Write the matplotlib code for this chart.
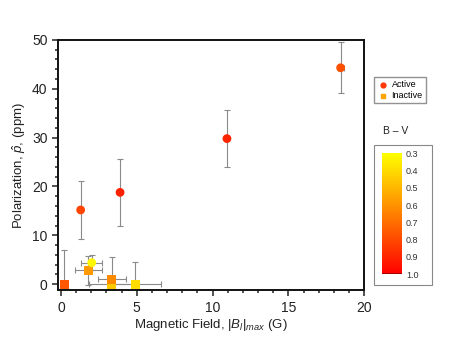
import matplotlib
matplotlib.use('Agg')
import matplotlib.pyplot as plt
import matplotlib.colors as mcolors
from matplotlib.patches import Rectangle
from matplotlib.ticker import MultipleLocator

plt.rcParams['font.family'] = ['Liberation Sans', 'DejaVu Sans']
plt.rcParams['mathtext.fontset'] = 'custom'
plt.rcParams['mathtext.rm'] = 'Liberation Sans'
plt.rcParams['mathtext.it'] = 'Liberation Sans:italic'

# active stars (circles)
act_x = [1.3, 3.9, 10.95, 18.45, 2.03]
act_y = [15.2, 18.8, 29.8, 44.3, 4.4]
act_xerr = [0.0, 0.0, 0.0, 0.2, 0.69]
act_yerr = [6.0, 6.9, 5.8, 5.2, 1.5]
act_bv = [0.81, 0.91, 0.90, 0.78, 0.32]

# inactive stars (squares)
ina_x = [0.22, 1.81, 3.35, 3.35, 4.9]
ina_y = [0.0, 2.87, 0.0, 1.0, 0.0]
ina_xerr = [0.0, 0.88, 1.5, 0.91, 1.72]
ina_yerr = [7.1, 3.0, 0.0, 4.5, 4.5]
ina_bv = [0.76, 0.58, 0.45, 0.62, 0.40]

cbar_ticks = [0.3, 0.4, 0.5, 0.6, 0.7, 0.8, 0.9, 1.0]

cmap = plt.get_cmap('autumn_r')
norm = mcolors.Normalize(vmin=0.3, vmax=1.0)

fig = plt.figure(figsize=(4.49, 3.47), dpi=100)
ax = fig.add_axes([0.129, 0.164, 0.682, 0.721])

ecol = '#8a8a8a'
# error bars
ax.errorbar(ina_x, ina_y, xerr=ina_xerr, yerr=ina_yerr, fmt='none',
            ecolor=ecol, elinewidth=0.8, capsize=2, capthick=0.8, zorder=2)
ax.errorbar(act_x, act_y, xerr=act_xerr, yerr=act_yerr, fmt='none',
            ecolor=ecol, elinewidth=0.8, capsize=2, capthick=0.8, zorder=2)

ax.scatter(ina_x, ina_y, c=ina_bv, cmap=cmap, norm=norm, marker='s', s=40,
           linewidths=0, zorder=3)
ax.scatter(act_x, act_y, c=act_bv, cmap=cmap, norm=norm, marker='o', s=40,
           linewidths=0, zorder=4)

ax.set_xlim(-0.2, 20)
ax.set_ylim(-1.2, 50)
ax.xaxis.set_major_locator(MultipleLocator(5))
ax.xaxis.set_minor_locator(MultipleLocator(1))
ax.yaxis.set_major_locator(MultipleLocator(10))
ax.yaxis.set_minor_locator(MultipleLocator(2))
ax.tick_params(which='both', direction='out', top=False, right=False,
               labelsize=10, width=1.1, colors='#222222')
ax.tick_params(which='major', length=4)
ax.tick_params(which='minor', length=2.5)
for s in ax.spines.values():
    s.set_linewidth(1.4)
    s.set_color('#111111')

ax.set_xlabel(r'Magnetic Field, $|B_l|_{max}$ (G)', fontsize=9.5,
              color='#222222', labelpad=2)
ax.set_ylabel(r'Polarization, $\hat{p}$, (ppm)', fontsize=9.5,
              color='#222222', labelpad=3)

# legend
h1 = ax.scatter([], [], color=cmap(norm(0.85)), marker='o', s=12)
h2 = ax.scatter([], [], color=cmap(norm(0.55)), marker='s', s=12)
fig.legend([h1, h2], ['Active', 'Inactive'], loc='upper left',
           bbox_to_anchor=(0.833, 0.778), borderaxespad=0, fontsize=6.5,
           frameon=True, fancybox=False, edgecolor='#777777',
           handletextpad=0.4, borderpad=0.35, labelspacing=0.2,
           handlelength=1.2)

# colour bar in its box
fig.text(0.882, 0.622, 'B – V', ha='center', va='center', fontsize=7.5,
         color='#222222')
fig.patches.append(Rectangle((0.833, 0.179), 0.129, 0.403,
                             transform=fig.transFigure, fill=False,
                             edgecolor='#888888', linewidth=0.8))
cax = fig.add_axes([0.85, 0.21, 0.045, 0.348])
sm = matplotlib.cm.ScalarMappable(norm=norm, cmap=cmap)
cb = fig.colorbar(sm, cax=cax, ticks=cbar_ticks)
cb.outline.set_visible(False)
cax.invert_yaxis()
cax.set_yticklabels(['%.1f' % t for t in cbar_ticks])
cax.tick_params(length=0, labelsize=6.5, pad=3, colors='#333333')
cax.axhline(1.0, color='#990000', linewidth=1.2)

plt.savefig('out.png', dpi=100)
